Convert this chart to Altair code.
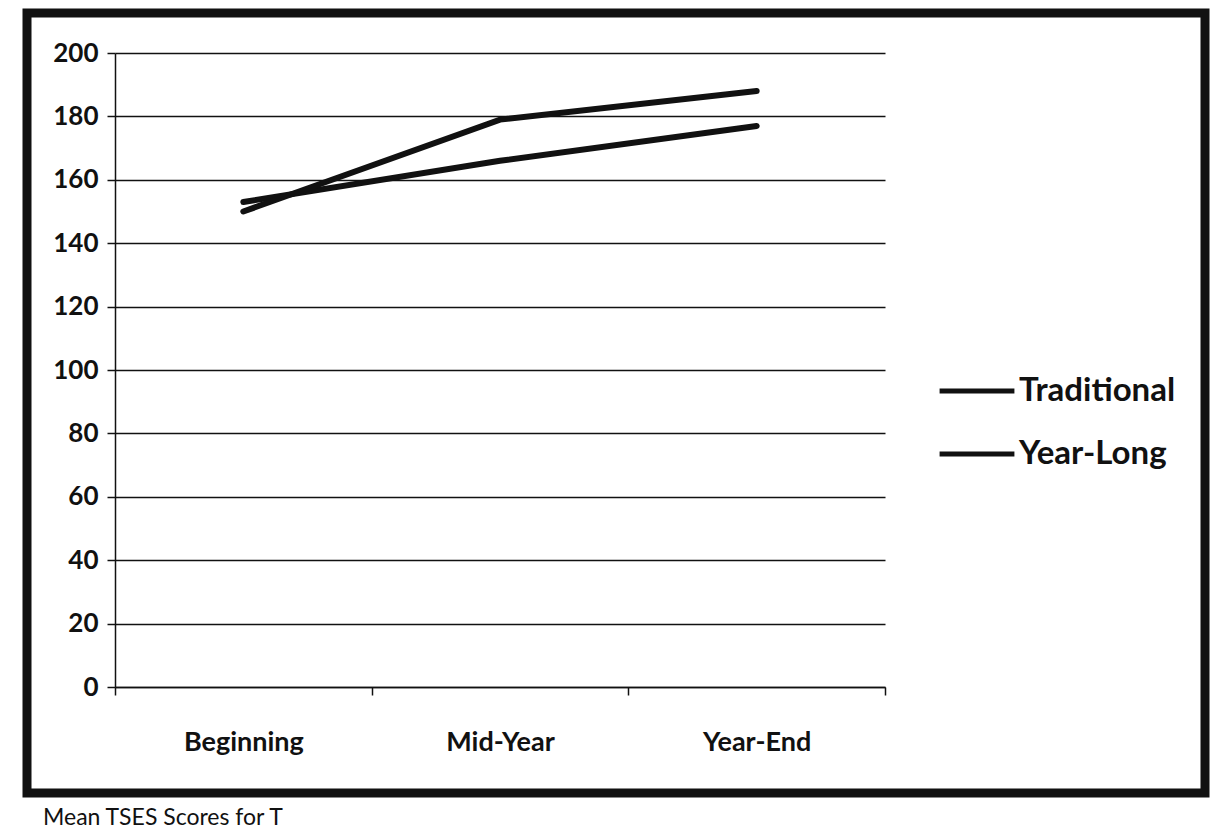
import altair as alt
import pandas as pd

phases = ["Beginning", "Mid-Year", "Year-End"]
traditional = [153, 166, 177]
year_long = [150, 179, 188]
series_names = ["Traditional", "Year-Long"]
caption = "Mean TSES Scores for T"

rows = []
for name, vals in zip(series_names, [traditional, year_long]):
    for p, v in zip(phases, vals):
        rows.append({"phase": p, "score": v, "series": name})
df = pd.DataFrame(rows)

FONT = "Lato"
W, H = 770, 634
PAD_L, PAD_T = 115, 53

lines = alt.Chart(df).mark_line(strokeWidth=6, strokeCap="round").encode(
    x=alt.X("phase:N", sort=phases, bandPosition=0.5,
            scale=alt.Scale(type="band", paddingInner=0, paddingOuter=0),
            axis=alt.Axis(title=None, tickBand="extent", labelAngle=0,
                          labelFontSize=27, labelFont=FONT, labelFontWeight="bold",
                          labelColor="#111", labelPadding=34, tickSize=8,
                          tickColor="#111", tickWidth=1.5, domainColor="#111",
                          domainWidth=1.5, grid=False)),
    y=alt.Y("score:Q", scale=alt.Scale(domain=[0, 200], nice=False),
            axis=alt.Axis(title=None, values=list(range(0, 201, 20)),
                          labelFontSize=26, labelFont=FONT, labelFontWeight="bold",
                          labelColor="#111", labelPadding=9, tickSize=8,
                          tickColor="#111", tickWidth=1.5, domainColor="#111",
                          domainWidth=1.5, grid=True, gridColor="#111",
                          gridWidth=1.5, gridOpacity=1)),
    color=alt.Color("series:N", scale=alt.Scale(domain=series_names, range=["#111", "#111"]),
                    legend=alt.Legend(title=None, orient="none", legendX=822, legendY=298,
                                      symbolType="stroke", symbolSize=5600,
                                      symbolStrokeWidth=5, labelFontSize=33,
                                      labelFont=FONT, labelFontWeight="bold",
                                      labelColor="#111", labelOffset=2, rowPadding=6)),
    detail="series:N",
)

frame_df = pd.DataFrame({"k": [0]})
frame = alt.Chart(frame_df).mark_rect(fill="transparent", stroke="#111", strokeWidth=9).encode(
    x=alt.value(-88), x2=alt.value(1090), y=alt.value(-40), y2=alt.value(740)
)

cap = alt.Chart(frame_df).mark_text(text=caption, align="left", baseline="alphabetic",
                                    fontSize=23, font=FONT, color="#111").encode(
    x=alt.value(-72), y=alt.value(772)
)

chart = alt.layer(lines, frame, cap).properties(
    width=W, height=H,
    autosize=alt.AutoSizeParams(type="none"),
    padding={"left": PAD_L, "top": PAD_T, "right": 1224 - PAD_L - W, "bottom": 840 - PAD_T - H},
    background="white",
).configure_view(stroke=None)

chart.save("out.html", embed_options={"renderer": "svg", "actions": False})
